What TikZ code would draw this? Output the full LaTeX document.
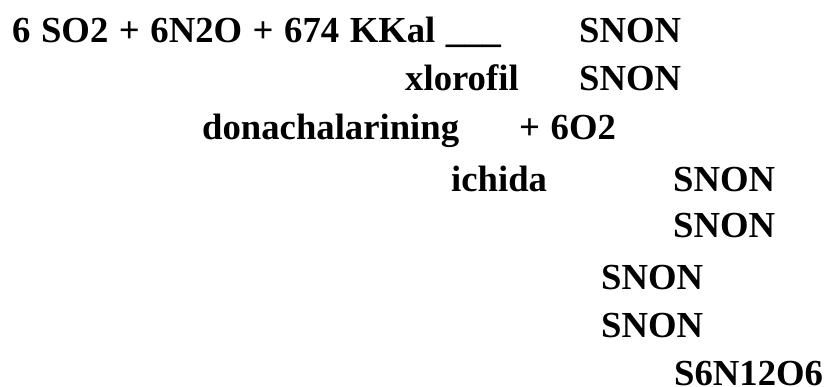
\documentclass[tikz,border=0pt]{standalone}
\usepackage{fontspec}
\setmainfont[WordSpace=1.15]{Liberation Serif}
\begin{document}
\begin{tikzpicture}[x=1pt,y=1pt,
  txt/.style={anchor=base west,inner sep=0pt,font=\fontsize{36.7}{40}\selectfont\bfseries}]
\useasboundingbox (0,0) rectangle (828,387);
\node[txt] (l1a) at (12,{387-43}) {6 SO2 + 6N2O + 674 KKal \_\_\_};
\node[txt] (l1b) at (579,{387-43}) {SNON};
\node[txt] (l2a) at (405,{387-91}) {xlorofil};
\node[txt] (l2b) at (579,{387-91}) {SNON};
\node[txt] (l3a) at (202,{387-140}) {donachalarining};
\node[txt] (l3b) at (519,{387-140}) {+ 6O2};
\node[txt] (l4a) at (451,{387-192}) {ichida};
\node[txt] (l4b) at (673,{387-192}) {SNON};
\node[txt] (l5) at (673,{387-238}) {SNON};
\node[txt] (l6) at (601,{387-290}) {SNON};
\node[txt] (l7) at (601,{387-338}) {SNON};
\node[txt] (l8) at (674,{387-386}) {S6N12O6};
\end{tikzpicture}
\end{document}
